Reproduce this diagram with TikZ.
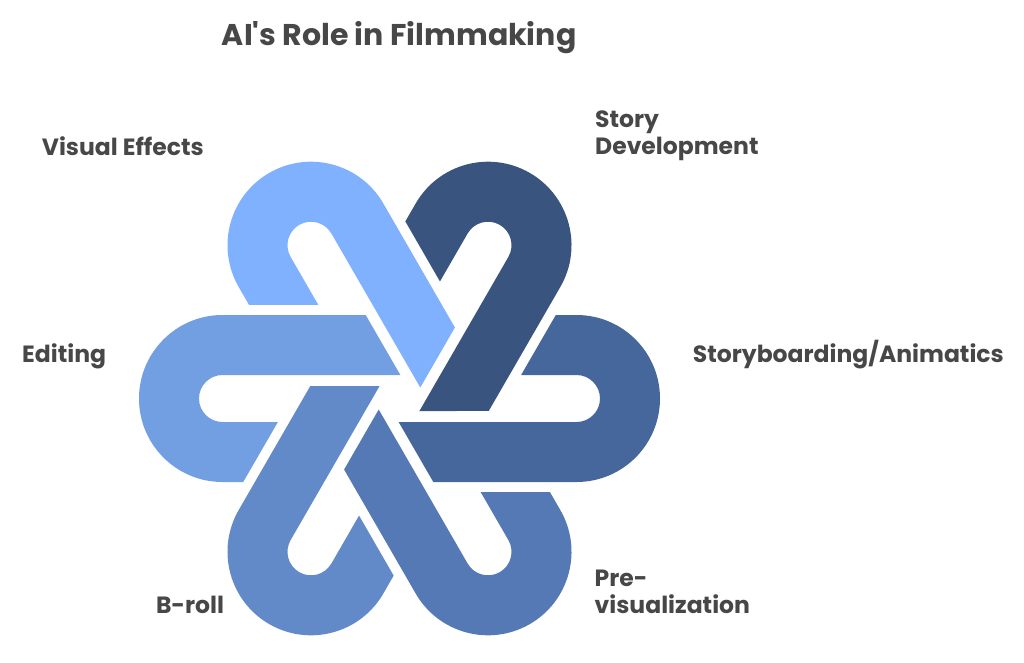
\documentclass[tikz,border=0pt]{standalone}
\usepackage{fontspec}
\setmainfont{Poppins}
\definecolor{textgray}{HTML}{474747}
\definecolor{vfxblue}{HTML}{80B1FF}
\definecolor{storyblue}{HTML}{39547F}
\definecolor{boardblue}{HTML}{46679B}
\definecolor{previsblue}{HTML}{5579B4}
\definecolor{brollblue}{HTML}{628AC8}
\definecolor{editblue}{HTML}{729EE2}

\begin{document}
\begin{tikzpicture}[x=1pt,y=1pt,
    label node/.style={anchor=base west,inner sep=0pt,text=textgray,align=left,
      font=\fontsize{23.5}{26.5}\selectfont\bfseries},
    title node/.style={label node,font=\fontsize{30}{32}\selectfont\bfseries},
    pics/hook/.style={code={
      \fill[#1] (0.87,23.5) -- (-33.8,83.5) -- (-177,83.5)
        arc[start angle=90,end angle=270,radius=83.5] -- (-156.3,-83.5)
        -- (-121.6,-23.5) -- (-177,-23.5)
        arc[start angle=270,end angle=90,radius=23.5] -- cycle;}}]

    \useasboundingbox (0,0) rectangle (1024,-662);
    \coordinate (hub) at (399.5,-398.5);

    % six hooks round the hub
    \pic at (hub) {hook=editblue};
    \pic[rotate=-60] at (hub) {hook=vfxblue};
    \pic[rotate=-120] at (hub) {hook=storyblue};
    \pic[rotate=180] at (hub) {hook=boardblue};
    \pic[rotate=120] at (hub) {hook=previsblue};
    \pic[rotate=60] at (hub) {hook=brollblue};

    \node[title node] (title) at (221.7,-45.7) {AI\textquotesingle s Role in Filmmaking};
    \node[label node] (vfx) at (41.7,-155) {Visual Effects};
    \node[label node] (story) at (595,-154) {Story\\Development};
    \node[label node] (edit) at (22,-362.7) {Editing};
    \node[label node] (board) at (692.7,-362.7) {Storyboarding/Animatics};
    \node[label node] (broll) at (155.8,-613) {B-roll};
    \node[label node] (previs) at (594.5,-613) {Pre-\\visualization};
\end{tikzpicture}
\end{document}
